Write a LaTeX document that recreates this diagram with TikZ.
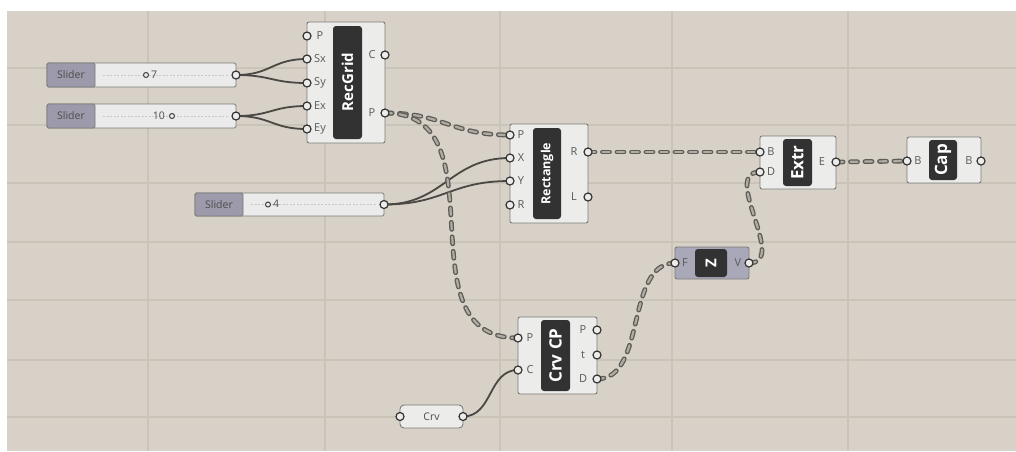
\documentclass[tikz,border=0pt]{standalone}
\usepackage{fontspec}
\setmainfont{Open Sans}
\definecolor{bgc}{HTML}{D7D1C7}
\definecolor{gridc}{HTML}{CAC3B8}
\definecolor{bodyc}{HTML}{ECECEA}
\definecolor{edgec}{HTML}{7C7B78}
\definecolor{barc}{HTML}{323232}
\definecolor{lblc}{HTML}{9C9AAB}
\definecolor{zc}{HTML}{A9A8B8}
\definecolor{wirec}{HTML}{4A4844}
\definecolor{dwout}{HTML}{5E5C57}
\definecolor{dwin}{HTML}{B0ACA3}
\pgfdeclarelayer{bg}
\pgfdeclarelayer{wires}
\pgfsetlayers{bg,wires,main}
\tikzset{
  comp/.style={draw=edgec, fill=bodyc, line width=0.9pt, rounded corners=2pt},
  bar/.style={fill=barc, rounded corners=3pt},
  bartxt/.style={text=white, font=\bfseries\fontsize{17}{18}\selectfont, rotate=90, inner sep=0pt},
  plbl/.style={text=black!65, font=\fontsize{11}{12}\selectfont, inner sep=0pt},
  port/.style={circle, draw=black!80, fill=bodyc, line width=1.2pt, minimum size=8pt, inner sep=0pt},
  wire/.style={draw=wirec, line width=1.8pt},
  dwire/.style={draw=dwout, line width=4.8pt, line cap=round, dash pattern=on 7pt off 7.5pt,
    postaction={draw=dwin, line width=2.2pt, line cap=round, dash pattern=on 7pt off 7.5pt}},
  sfield/.style={draw=edgec, fill=white!92!black, line width=0.9pt, rounded corners=1.5pt},
  slbl/.style={draw=edgec, fill=lblc, line width=0.9pt, rounded corners=1.5pt},
  stxt/.style={text=black!70, font=\fontsize{10.5}{11}\selectfont, inner sep=0pt},
  track/.style={draw=black!22, line width=0.6pt, dash pattern=on 2pt off 1.5pt},
  knob/.style={circle, draw=black!75, line width=1pt, minimum size=5pt, inner sep=0pt},
  gridline/.style={draw=gridc, line width=1.6pt}
}
\begin{document}
\begin{tikzpicture}[x=1pt,y=-1pt]
\useasboundingbox (0,0) rectangle (1016,451);
\begin{pgfonlayer}{bg}
\fill[white] (0,0) rectangle (1016,451);
\fill[bgc] (7,11) rectangle (1016,451);
\foreach \gx in {148,325,500,672,848} \draw[gridline] (\gx,11) -- (\gx,451);
\foreach \gy in {68,125,183,242,300,360,417} \draw[gridline] (7,\gy) -- (1016,\gy);
\end{pgfonlayer}

% ---------- Sliders ----------
\draw[sfield] (47,63) rectangle (236,87);
\draw[slbl] (47,63) rectangle (95,87);
\node[stxt] (s1l) at (71,75) {Slider};
\draw[track] (103,75) -- (228,75);
\node[knob, fill=white!92!black] (s1k) at (146,75) {};
\node[stxt, anchor=west] (s1v) at (151,74.5) {7};
\node[port] (s1o) at (236,75) {};

\draw[sfield] (47,104) rectangle (236,128);
\draw[slbl] (47,104) rectangle (95,128);
\node[stxt] (s2l) at (71,116) {Slider};
\draw[track] (103,116) -- (228,116);
\node[knob, fill=white!92!black] (s2k) at (172,116) {};
\node[stxt, anchor=east] (s2v) at (165,115.5) {10};
\node[port] (s2o) at (236,116) {};

\draw[sfield] (195,193) rectangle (384,216);
\draw[slbl] (195,193) rectangle (243,216);
\node[stxt] (s3l) at (219,204.5) {Slider};
\draw[track] (251,204.5) -- (376,204.5);
\node[knob, fill=white!92!black] (s3k) at (268,204.5) {};
\node[stxt, anchor=west] (s3v) at (273,204) {4};
\node[port] (s3o) at (384,204.5) {};

% ---------- RecGrid ----------
\draw[comp] (307,22) rectangle (385,143);
\fill[bar] (333,26) rectangle (362,139);
\node[bartxt, font=\bfseries\fontsize{15}{16}\selectfont] (rgt) at (347.5,82) {RecGrid};
\node[plbl] (rgl1) at (320,36) {P};
\node[plbl] (rgl2) at (320,59) {Sx};
\node[plbl] (rgl3) at (320,83) {Sy};
\node[plbl] (rgl4) at (320,106) {Ex};
\node[plbl] (rgl5) at (320,129) {Ey};
\node[plbl] (rgl6) at (372,55) {C};
\node[plbl] (rgl7) at (372,113) {P};
\node[port] (rgp) at (307,36) {};
\node[port] (rgsx) at (307,59) {};
\node[port] (rgsy) at (307,83) {};
\node[port] (rgex) at (307,106) {};
\node[port] (rgey) at (307,129) {};
\node[port] (rgc) at (385,55) {};
\node[port] (rgpo) at (385,113) {};

% ---------- Rectangle ----------
\draw[comp] (510,124) rectangle (588,223);
\fill[bar] (533,128) rectangle (561,219);
\node[bartxt, font=\bfseries\fontsize{12.5}{13}\selectfont] (ret) at (547,173.5) {Rectangle};
\node[plbl] (rel1) at (521,135) {P};
\node[plbl] (rel2) at (521,158) {X};
\node[plbl] (rel3) at (521,181) {Y};
\node[plbl] (rel4) at (521,205) {R};
\node[plbl] (rel5) at (574,152) {R};
\node[plbl] (rel6) at (574,197) {L};
\node[port] (rep) at (510,135) {};
\node[port] (rex) at (510,158) {};
\node[port] (rey) at (510,181) {};
\node[port] (rer) at (510,205) {};
\node[port] (reo) at (588,152) {};
\node[port] (rel) at (588,197) {};

% ---------- Extr ----------
\draw[comp] (760,136) rectangle (836,189);
\fill[bar] (783,139) rectangle (812,186);
\node[bartxt] (ext) at (797.5,162.5) {Extr};
\node[plbl] (exl1) at (771,152) {B};
\node[plbl] (exl2) at (771,172) {D};
\node[plbl] (exl3) at (822,162) {E};
\node[port] (exb) at (760,152) {};
\node[port] (exd) at (760,172) {};
\node[port] (exe) at (836,162) {};

% ---------- Cap ----------
\draw[comp] (907,137) rectangle (981,183);
\fill[bar] (929,140) rectangle (957,180);
\node[bartxt] (cat) at (943,160) {Cap};
\node[plbl] (cal1) at (918,161) {B};
\node[plbl] (cal2) at (969,161) {B};
\node[port] (cab) at (907,161) {};
\node[port] (cao) at (981,161) {};

% ---------- Z ----------
\draw[comp, fill=zc] (675,247) rectangle (749,279);
\fill[bar] (695,249) rectangle (727,277);
\node[bartxt, font=\bfseries\fontsize{15}{16}\selectfont] (zt) at (711,263) {Z};
\node[plbl] (zl1) at (685,263) {F};
\node[plbl] (zl2) at (738,263) {V};
\node[port] (zf) at (675,263) {};
\node[port] (zv) at (749,263) {};

% ---------- Crv CP ----------
\draw[comp] (518,317) rectangle (597,394);
\fill[bar] (541,320) rectangle (570,391);
\node[bartxt] (cpt) at (555.5,355.5) {Crv CP};
\node[plbl] (cpl1) at (530,338) {P};
\node[plbl] (cpl2) at (530,370) {C};
\node[plbl] (cpl3) at (583,330) {P};
\node[plbl] (cpl4) at (583,355) {t};
\node[plbl] (cpl5) at (583,379) {D};
\node[port] (cpp) at (518,338) {};
\node[port] (cpc) at (518,370) {};
\node[port] (cpo) at (597,330) {};
\node[port] (cpt2) at (597,355) {};
\node[port] (cpd) at (597,379) {};

% ---------- Crv ----------
\draw[comp, rounded corners=4pt] (400,405) rectangle (463,428);
\node[stxt] (crt) at (431.5,416.5) {Crv};
\node[port] (cri) at (400,416.5) {};
\node[port] (cro) at (463,416.5) {};

% ---------- Wires ----------
\begin{pgfonlayer}{wires}
\draw[wire] (s1o.center) .. controls +(35,0) and +(-35,0) .. (rgsx.center);
\draw[wire] (s1o.center) .. controls +(35,0) and +(-35,0) .. (rgsy.center);
\draw[wire] (s2o.center) .. controls +(35,0) and +(-35,0) .. (rgex.center);
\draw[wire] (s2o.center) .. controls +(35,0) and +(-35,0) .. (rgey.center);
\draw[wire] (s3o.center) .. controls +(60,0) and +(-60,0) .. (rex.center);
\draw[wire] (s3o.center) .. controls +(60,0) and +(-60,0) .. (rey.center);
\draw[wire] (cro.center) .. controls +(30,0) and +(-30,0) .. (cpc.center);
\draw[dwire] (rgpo.center) .. controls +(60,0) and +(-60,0) .. (rep.center);
\draw[dwire] (rgpo.center) .. controls +(120,0) and +(-120,0) .. (cpp.center);
\draw[dwire] (reo.center) -- (exb.center);
\draw[dwire] (exe.center) -- (cab.center);
\draw[dwire] (cpd.center) .. controls +(50,0) and +(-50,0) .. (zf.center);
\draw[dwire] (zv.center) .. controls +(40,0) and +(-40,0) .. (exd.center);
\end{pgfonlayer}
\end{tikzpicture}
\end{document}
